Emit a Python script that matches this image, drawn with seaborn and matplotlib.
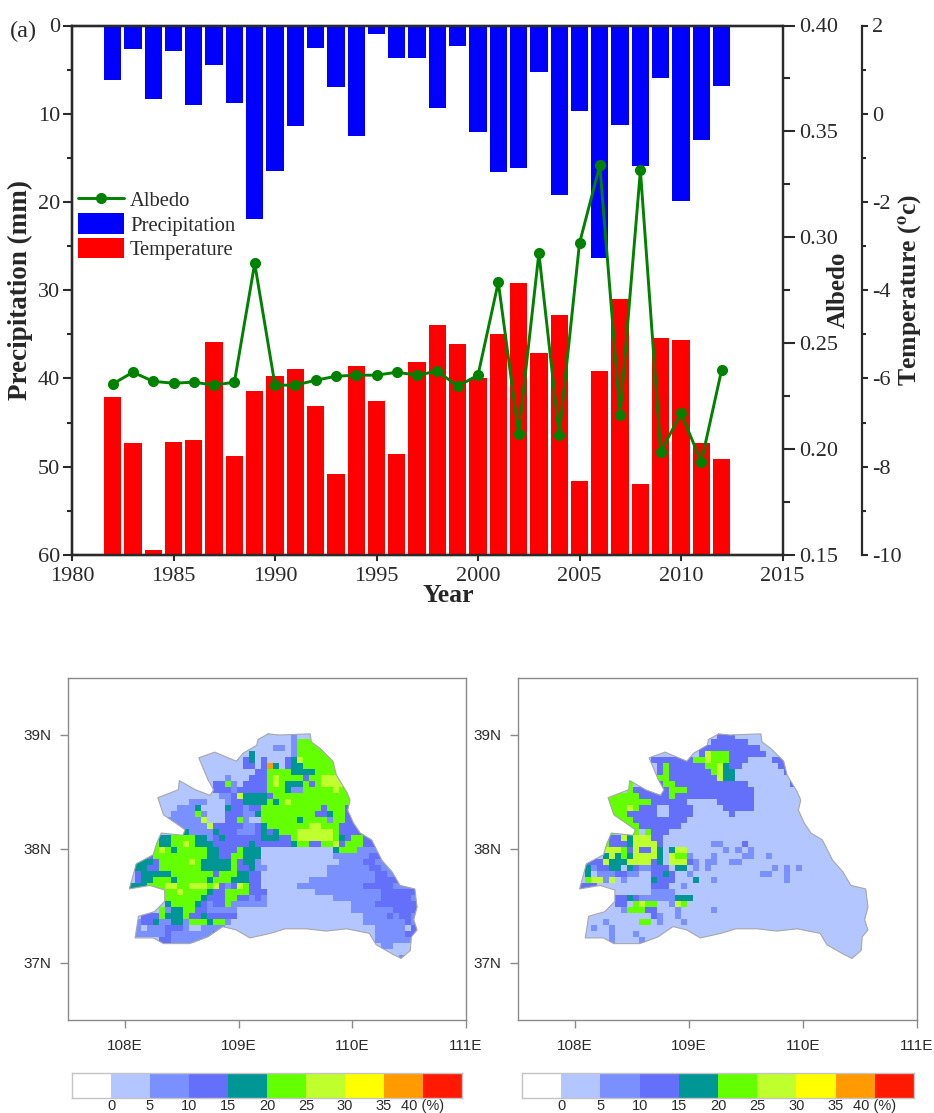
import numpy as np
import pandas as pd
import seaborn as sns
import matplotlib
matplotlib.use("Agg")
import matplotlib.pyplot as plt
from matplotlib.colors import ListedColormap
from matplotlib.lines import Line2D
from matplotlib.patches import Patch, Polygon
from matplotlib.ticker import MultipleLocator

years = list(range(1982, 2013))
precipitation = [6.2, 2.7, 8.3, 2.9, 9.0, 4.5, 8.8, 21.9, 16.5, 11.4, 2.5, 7.0, 12.5, 1.0, 3.7, 3.7,
                 9.4, 2.3, 12.1, 16.6, 16.1, 5.3, 19.2, 9.7, 26.4, 11.3, 15.9, 6.0, 19.9, 13.0, 6.8]
temperature = [-6.42, -7.46, -9.89, -7.44, -7.39, -5.17, -7.76, -6.28, -5.94, -5.78, -6.62, -8.16,
               -5.71, -6.51, -7.71, -5.62, -4.78, -5.22, -6.0, -4.99, -3.83, -5.42, -4.56, -8.32,
               -5.83, -4.2, -8.39, -5.08, -5.12, -7.46, -7.82]
albedo = [.2307, .2363, .232, .2311, .2316, .2302, .2316, .2877, .2302, .2302, .2325, .2344, .2349,
          .2349, .2363, .2349, .2368, .2297, .2349, .2788, .2071, .2925, .2066, .2972, .334, .216,
          .3316, .1986, .217, .1939, .2373]

class_colors = ["#ffffff", "#b3c6ff", "#7a90ff", "#6470fa", "#009696", "#64ff00",
                "#bfff2d", "#ffff00", "#ff9b00", "#ff1900"]
class_labels = ["0", "5", "10", "15", "20", "25", "30", "35", "40 (%)"]

boundary_lon = [109.26, 109.36, 109.63, 109.64, 109.72, 109.83, 109.86, 109.95, 109.98, 109.96, 110.01,
                110.07, 110.17, 110.26, 110.35, 110.42, 110.55, 110.57, 110.54, 110.57, 110.52, 110.51,
                110.43, 110.35, 110.21, 110.15, 109.95, 109.77, 109.60, 109.41, 109.28, 109.10, 108.98,
                108.86, 108.73, 108.57, 108.34, 108.25, 108.09, 108.12, 108.26, 108.35, 108.35, 108.22,
                108.04, 108.10, 108.25, 108.28, 108.32, 108.51, 108.53, 108.34, 108.29, 108.47, 108.48,
                108.62, 108.75, 108.78, 108.73, 108.65, 108.79, 108.98, 109.04, 109.16, 109.17, 109.26]
boundary_lat = [39.01, 39.00, 39.01, 38.94, 38.88, 38.77, 38.65, 38.50, 38.43, 38.34, 38.23,
                38.14, 38.08, 37.90, 37.80, 37.68, 37.65, 37.49, 37.38, 37.29, 37.23, 37.11,
                37.04, 37.08, 37.16, 37.26, 37.30, 37.28, 37.30, 37.30, 37.26, 37.22, 37.29,
                37.32, 37.23, 37.17, 37.17, 37.22, 37.22, 37.41, 37.45, 37.54, 37.64, 37.68,
                37.65, 37.87, 37.95, 38.05, 38.14, 38.12, 38.17, 38.30, 38.45, 38.52, 38.60,
                38.52, 38.47, 38.52, 38.61, 38.80, 38.85, 38.77, 38.84, 38.91, 38.96, 39.01]

# class of each 0.05-degree cell, north to south, west to east ('.' = basin background)
left_cells = [
    ".......... .......... ...1111211 1",
    ".......... .......... ..11111255 5",
    ".......... .........1 1111221255 55",
    ".......... .........1 4111111255 5555",
    ".......... ..11111113 4131113465 55555",
    ".......... ...1111113 3138413445 55555",
    ".......... ...1111111 1335555444 45555",
    ".......... ...1112111 3335655553 556665",
    "........1. 1111335213 3335654445 3566665",
    ".....11111 1111333233 3335554225 5555655",
    ".....11111 1111122364 4443555555 5555555",
    ".....11111 2221112334 4445456555 5555555",
    ".....11122 2411114332 3355555555 5535553",
    "......1222 2521113332 2455555555 5334553",
    "......2222 2261113352 1155555545 55525533",
    "........22 2226333332 2345555555 665553333",
    ".........4 2222433322 2343455566 666653333",
    ".....44555 5442343333 3344433566 6666543553",
    "....544556 5444333333 4333333455 3355635553",
    "....565455 5554433354 4411111111 1111455522 22",
    "...3555555 5554433554 4411111111 1111222222 33",
    ".444355555 6544444534 4211111111 1111122223 322",
    ".443355555 5544444533 4221111111 1112222222 332",
    ".344444555 5555355544 3311111111 1112222222 2332",
    ".344555455 5554555444 3311111111 2222222222 23333",
    "4445556655 6665632365 3311111122 2222222223 33332",
    "......5565 5554335555 3331111111 1222222222 22333333",
    "......5555 5543335533 2321111111 1111222222 22333332",
    "......4555 5432335222 2221111111 1111111222 23333333",
    ".....52445 5332222211 1111111111 1111111222 22223333",
    "..33354445 3343333311 1111111111 1111111112 22232332",
    ".233422442 5554552111 1111111111 1111111112 22222232",
    ".212223332 1122221111 1111111111 1111111111 12222213",
    ".222223222 2222333111 1111111111 1111111111 12222233",
    ".....33222 2222211111 1111111111 1111111111 12222222",
    ".......... .......... .......... .......... ..221112",
    ".......... .......... .......... .......... ....1112",
    ".......... .......... .......... .......... .....2..",
]
right_cells = [
    ".......... .......... ...3331111 1",
    ".......... .......... ..33333311 11",
    ".......... .........1 3333333333 11",
    ".......... .........1 3655533333 31111",
    ".......... ..33333335 5655533311 1133111111",
    ".......... ...3533333 3556433111 1113331111",
    ".......... ...3533333 3356441111 1111333111",
    ".......... ...5533333 3336441111 1111111111",
    "........5. 3333553333 3333333311 1111131111",
    "........53 3333355533 3333333331 1",
    ".....55555 3333353333 3333333331 1",
    ".....55555 5533333311 1113333331 1",
    ".....55565 3331133331 1111333331 1",
    ".....55533 3331133331 1111131111 1",
    "......5553 3333333311 1",
    "........55 3333333111 1",
    ".....5...5 1533311111 1",
    ".....33646 6633111111 1",
    "....533346 6663111111 1122111311 1",
    "....666536 3364146611 1111212121 1",
    "....464546 6664165521 1121111221 1211111111",
    ".333644466 6634166632 1221122111 1",
    ".423344143 2233314412 1211111111 1121212111",
    ".412223322 1133431121 1111111111 2211211111",
    ".566261211 1143331114 1121111111 1111211111",
    "3331111111 1133311211 1",
    ".......111 1122221111 1",
    "......3343 2222224441 1",
    "......3315 6551126511 1",
    "......1255 5331112111 1121111111 1",
    "..11111111 1132112111 1",
    ".111211111 5512111211 1",
    ".121121111 1111111111 1",
    ".111121112 1111111111 1",
    ".....21111 2111111111 1",
    ".......... .......... .......... .......... ..111111",
    ".......... .......... .......... .......... ....1111",
    ".......... .......... .......... .......... .....1..",
]

COLS = 48
LON0, DLON = 108.035, 0.0528
LAT0, DLAT = 39.015, 0.0526
W, H = 934, 1113


def cells_frame(rows):
    grid = np.full((len(rows), COLS), np.nan)
    for r, text in enumerate(rows):
        s = text.replace(" ", "").rstrip(".")
        s = s.ljust(COLS, s[-1])[:COLS]
        for c, ch in enumerate(s):
            if ch != ".":
                grid[r, c] = int(ch)
    return pd.DataFrame(grid)


def px_axes(x0, y0, x1, y1):
    return fig.add_axes([x0 / W, 1 - y1 / H, (x1 - x0) / W, (y1 - y0) / H])


sns.set_style("ticks")
plt.rcParams["font.family"] = ["Liberation Serif", "DejaVu Sans"]
plt.rcParams["mathtext.fontset"] = "stix"
plt.rcParams["axes.unicode_minus"] = False

fig = plt.figure(figsize=(W / 100, H / 100), dpi=100)
INK = "#2a2a2a"
GREEN = "#008200"
TOP_W, TOP_H = 710.5, 529.5

# ---------- top panel ----------
ax = px_axes(72, 25.5, 782.5, 555)
frame = pd.DataFrame({"year": years, "precipitation": precipitation,
                      "temperature": temperature, "albedo": albedo})
frame["temp_height"] = frame["temperature"] + 10

sns.barplot(data=frame, x="year", y="precipitation", native_scale=True, width=0.85, color="#0000ff",
            saturation=1, errorbar=None, linewidth=0, ax=ax)
ax.set_ylim(60, 0)
ax.yaxis.set_major_locator(MultipleLocator(10))
ax.yaxis.set_minor_locator(MultipleLocator(5))

ax3 = ax.twinx()
sns.barplot(data=frame, x="year", y="temp_height", native_scale=True, width=0.85, color="#ff0000",
            saturation=1, errorbar=None, linewidth=0, bottom=-10, ax=ax3)
ax3.set_ylim(-10, 2)
ax3.spines["right"].set_position(("outward", 57))
ax3.yaxis.set_major_locator(MultipleLocator(2))
ax3.yaxis.set_minor_locator(MultipleLocator(1))
ax3.yaxis.set_ticks_position("right")
ax3.yaxis.set_label_position("right")
ax3.set_ylabel("Temperature ($^{\\mathbf{o}}$c)", fontsize=18.5, fontweight="bold")
ax3.yaxis.set_label_coords((897 - 72) / TOP_W, 0.5, transform=ax3.transAxes)

ax2 = ax.twinx()
sns.lineplot(data=frame, x="year", y="albedo", color=GREEN, linewidth=2.1, marker="o", markersize=8,
             markeredgewidth=0, errorbar=None, ax=ax2, legend=False)
ax2.set_ylim(0.15, 0.40)
ax2.set_yticks([0.15, 0.20, 0.25, 0.30, 0.35, 0.40])
ax2.set_yticklabels(["0.15", "0.20", "0.25", "0.30", "0.35", "0.40"])
ax2.yaxis.set_minor_locator(MultipleLocator(0.025))
ax2.set_ylabel("Albedo", fontsize=18, fontweight="bold")
ax2.yaxis.set_label_coords((827 - 72) / TOP_W, 0.5, transform=ax2.transAxes)

ax.set_xlim(1980, 2015)
ax.set_xticks(list(range(1980, 2016, 5)))
ax.set_xticklabels([str(v) for v in range(1980, 2016, 5)])
ax.set_xlabel("Year", fontsize=18.5, fontweight="bold")
ax.xaxis.set_label_coords((448 - 72) / TOP_W, -(596 - 555) / TOP_H, transform=ax.transAxes)
ax.xaxis.label.set_va("center")
ax.set_ylabel("Precipitation (mm)", fontsize=19.5, fontweight="bold")
ax.yaxis.set_label_coords((33 - 72) / TOP_W, 0.5, transform=ax.transAxes)

for a in (ax, ax2, ax3):
    a.tick_params(which="major", length=6.5, width=1.5, labelsize=16, colors=INK, pad=2)
    a.tick_params(which="minor", length=3.5, width=1.5, colors=INK)
    for s in a.spines.values():
        s.set_linewidth(1.6)
        s.set_color(INK)
ax.tick_params(axis="x", which="major", length=4.5, pad=4)
ax2.tick_params(axis="y", which="major", length=8.5, pad=3.5)
ax2.tick_params(axis="y", which="minor", length=5)
ax3.tick_params(axis="y", which="major", length=4.5, pad=3)
ax3.tick_params(axis="y", which="minor", length=3)

handles = [Line2D([], [], color=GREEN, lw=2.1, marker="o", ms=8, mew=0),
           Patch(color="#0000ff", lw=0), Patch(color="#ff0000", lw=0)]
leg = ax2.legend(handles, ["Albedo", "Precipitation", "Temperature"], loc="upper left",
                 bbox_to_anchor=(0.0, 0.703), frameon=False, fontsize=14.9, handlelength=2.2,
                 handleheight=1.15, labelspacing=0.1, handletextpad=0.3, borderaxespad=0.2,
                 borderpad=0.1)
for t in leg.get_texts():
    t.set_color(INK)

fig.text(10 / W, 1 - 31 / H, "(a)", fontsize=17.5, color=INK, va="center")

# ---------- maps ----------
frames = [(left_cells, 68, 466, 72, 462), (right_cells, 518, 917, 522, 914)]
cmap = ListedColormap(class_colors)
bx = (np.array(boundary_lon) - LON0) / DLON
by = (LAT0 - np.array(boundary_lat)) / DLAT
lon_ticks = [108, 109, 110, 111]
lat_ticks = [39, 38, 37]
GREY = "#8a8a8a"

for rows, x0, x1, cb0, cb1 in frames:
    m = px_axes(x0, 678, x1, 1020)
    m.set_facecolor("white")
    sns.heatmap(cells_frame(rows), ax=m, cmap=cmap, vmin=-0.5, vmax=9.5, cbar=False,
                xticklabels=False, yticklabels=False)
    mesh = m.collections[0]
    basin = Polygon(np.column_stack([bx, by]), closed=True, facecolor=class_colors[1],
                    edgecolor="none", zorder=0.5, transform=m.transData)
    m.add_patch(basin)
    mesh.set_clip_path(basin)
    m.plot(bx, by, color="#a8a8a8", lw=0.8, zorder=3)
    m.set_xlim((107.5 - LON0) / DLON, (111 - LON0) / DLON)
    m.set_ylim((LAT0 - 36.5) / DLAT, (LAT0 - 39.5) / DLAT)
    m.set_xticks([(v - LON0) / DLON for v in lon_ticks])
    m.set_xticklabels([f"{v}E" for v in lon_ticks], fontfamily="Liberation Sans")
    m.set_yticks([(LAT0 - v) / DLAT for v in lat_ticks])
    m.set_yticklabels([f"{v}N" for v in lat_ticks], fontfamily="Liberation Sans", rotation=0)
    m.set_xlabel("")
    m.set_ylabel("")
    m.tick_params(axis="x", length=6, width=1, color=GREY, labelsize=11, labelcolor=INK, pad=8)
    m.tick_params(axis="y", length=6, width=1, color=GREY, labelsize=11, labelcolor=INK, pad=6)
    for s in m.spines.values():
        s.set_visible(True)
        s.set_color(GREY)
        s.set_linewidth(1.0)

    cb = px_axes(cb0, 1073, cb1, 1098)
    sns.heatmap(pd.DataFrame([list(range(10))]), ax=cb, cmap=cmap, vmin=-0.5, vmax=9.5, cbar=False,
                xticklabels=False, yticklabels=False)
    cb.set_xticks(list(range(1, 10)))
    cb.set_xticklabels(class_labels, fontfamily="Liberation Sans", rotation=0)
    cb.set_yticks([])
    cb.set_xlabel("")
    cb.set_ylabel("")
    cb.tick_params(axis="x", length=0, labelsize=10.5, labelcolor=INK, pad=1)
    for s in cb.spines.values():
        s.set_visible(True)
        s.set_color("#c4c4c4")
        s.set_linewidth(1.0)

fig.savefig("out.png", dpi=100)
